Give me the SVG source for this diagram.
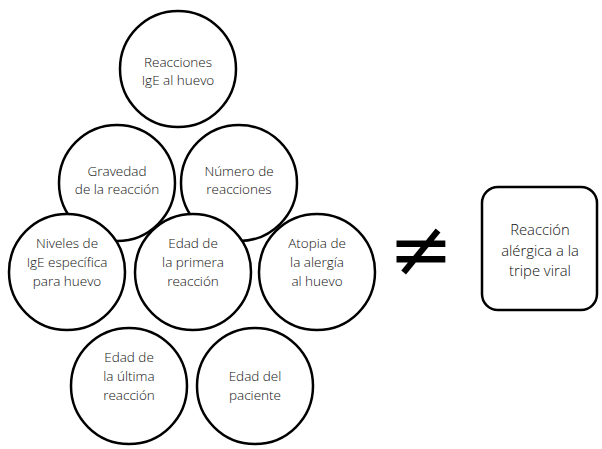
<svg xmlns="http://www.w3.org/2000/svg" width="602" height="449" viewBox="0 0 602 449">
<style>
.n{fill:#fff;stroke:#000;stroke-width:2.5}
.t{font-family:"Open Sans","Noto Sans",sans-serif;font-size:13.5px;font-weight:300;fill:#111;text-anchor:middle}
.b{font-size:14.8px}
</style>
<rect width="602" height="449" fill="#fff"/>
<g id="connectors"></g>
<g id="n1"><circle class="n" cx="178" cy="69" r="58"/><text class="t"><tspan x="178" y="67">Reacciones</tspan><tspan x="178" y="85">IgE al huevo</tspan></text></g>
<g id="n2"><circle class="n" cx="117" cy="183" r="58"/><text class="t"><tspan x="117" y="176">Gravedad</tspan><tspan x="117" y="194">de la reacción</tspan></text></g>
<g id="n3"><circle class="n" cx="239" cy="183" r="58"/><text class="t"><tspan x="239" y="176">Número de</tspan><tspan x="239" y="194">reacciones</tspan></text></g>
<g id="n4"><circle class="n" cx="67" cy="272" r="58"/><text class="t"><tspan x="67" y="248">Niveles de</tspan><tspan x="67" y="267">IgE específica</tspan><tspan x="67" y="286">para huevo</tspan></text></g>
<g id="n5"><circle class="n" cx="193" cy="272" r="58"/><text class="t"><tspan x="193" y="248">Edad de</tspan><tspan x="193" y="267">la primera</tspan><tspan x="193" y="286">reacción</tspan></text></g>
<g id="n6"><circle class="n" cx="317" cy="272" r="58"/><text class="t"><tspan x="317" y="248">Atopia de</tspan><tspan x="317" y="267">la alergía</tspan><tspan x="317" y="286">al huevo</tspan></text></g>
<g id="n7"><circle class="n" cx="129" cy="386" r="58"/><text class="t"><tspan x="129" y="362">Edad de</tspan><tspan x="129" y="381">la última</tspan><tspan x="129" y="400">reacción</tspan></text></g>
<g id="n8"><circle class="n" cx="255" cy="386" r="58"/><text class="t"><tspan x="255" y="381">Edad del</tspan><tspan x="255" y="400">paciente</tspan></text></g>
<g id="neq"><text x="421" y="276" font-family="DejaVu Sans,sans-serif" font-size="78" text-anchor="middle" fill="#000">≠</text></g>
<g id="n9"><rect class="n" x="482" y="187" width="115" height="123" rx="16"/><text class="t b"><tspan x="540" y="235">Reacción</tspan><tspan x="540" y="255.5">alérgica a la</tspan><tspan x="540" y="276">tripe viral</tspan></text></g>
</svg>
